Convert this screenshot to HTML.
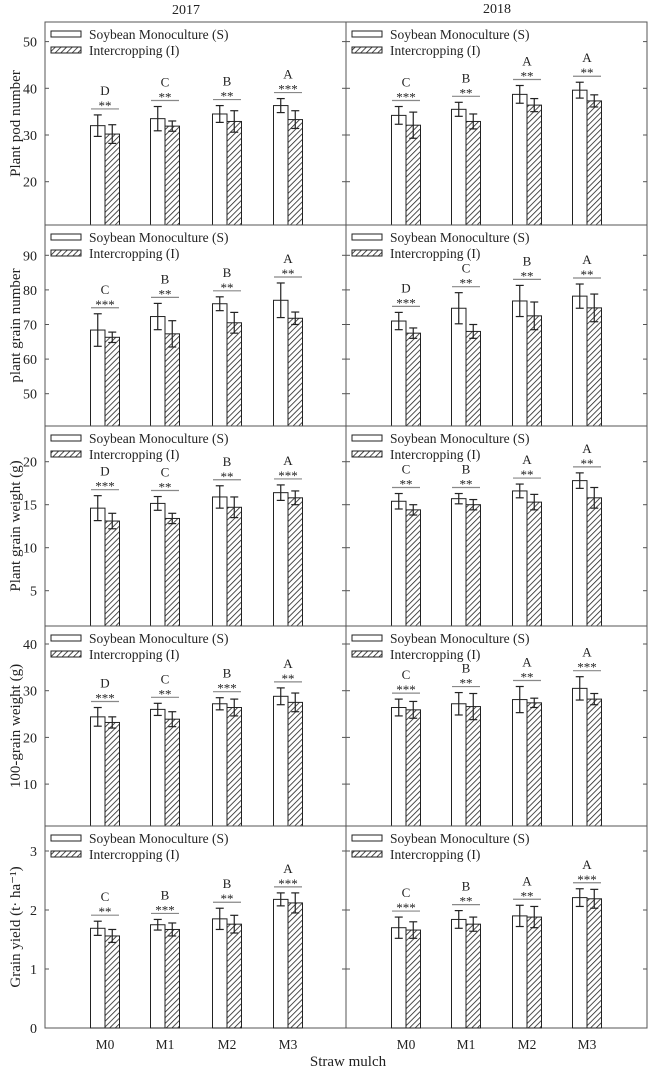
<!DOCTYPE html>
<html><head><meta charset="utf-8"><style>
html,body{margin:0;padding:0;background:#fff}
svg text{font-family:"Liberation Serif",serif;fill:#222}
</style></head><body>
<svg id="fig" width="649" height="1070" viewBox="0 0 649 1070" xmlns="http://www.w3.org/2000/svg">
<defs><pattern id="hatch" patternUnits="userSpaceOnUse" width="4" height="4" patternTransform="rotate(45)"><rect width="4" height="4" fill="#fff"/><line x1="0" y1="0" x2="0" y2="4" stroke="#222" stroke-width="1.6"/></pattern></defs>
<text x="186" y="14" font-size="14" text-anchor="middle">2017</text>
<text x="497" y="13" font-size="14" text-anchor="middle">2018</text>
<text x="348" y="1066" font-size="15" text-anchor="middle">Straw mulch</text>
</svg>
<script>
const categories=["M0","M1","M2","M3"];
const titles=["Plant pod number","plant grain number","Plant grain weight (g)","100-grain weight (g)","Grain yield (t· ha⁻¹)"];
const ticks=[[20,30,40,50],[50,60,70,80,90],[5,10,15,20],[10,20,30,40],[0,1,2,3]];
const sMono=[[[32.0,33.5,34.5,36.3],[34.2,35.5,38.7,39.6]],[[68.4,72.3,76.0,77.0],[71.0,74.7,76.8,78.2]],[[14.6,15.15,15.9,16.4],[15.4,15.7,16.6,17.8]],[[24.4,26.0,27.2,28.8],[26.4,27.2,28.1,30.5]],[[1.69,1.75,1.85,2.18],[1.70,1.84,1.90,2.21]]];
const sErr=[[[2.3,2.6,1.8,1.5],[1.9,1.5,1.9,1.7]],[[4.7,3.8,2.0,5.0],[2.5,4.5,4.5,3.5]],[[1.45,0.8,1.3,0.9],[0.9,0.6,0.8,0.9]],[[2.0,1.3,1.3,1.8],[1.8,2.4,2.8,2.5]],[[0.12,0.09,0.18,0.11],[0.18,0.15,0.18,0.15]]];
const iCrop=[[[30.2,31.9,32.9,33.3],[32.1,32.9,36.4,37.3]],[[66.3,67.3,70.5,71.8],[67.5,68.0,72.5,74.8]],[[13.1,13.4,14.7,15.8],[14.4,15.0,15.3,15.8]],[[23.2,23.9,26.4,27.5],[25.9,26.6,27.4,28.2]],[[1.56,1.67,1.76,2.12],[1.66,1.76,1.88,2.19]]];
const iErr=[[[2.0,1.1,2.3,1.9],[2.8,1.6,1.4,1.3]],[[1.5,3.8,3.0,1.8],[1.5,2.0,4.0,4.0]],[[0.9,0.6,1.2,0.8],[0.6,0.6,0.9,1.2]],[[1.2,1.6,1.8,2.0],[1.8,2.8,1.0,1.2]],[[0.11,0.11,0.15,0.17],[0.14,0.12,0.18,0.16]]];
const letters=[[["D","C","B","A"],["C","B","A","A"]],[["C","B","B","A"],["D","C","B","A"]],[["D","C","B","A"],["C","B","A","A"]],[["D","C","B","A"],["C","B","A","A"]],[["C","B","B","A"],["C","B","A","A"]]];
const stars=[[["**","**","**","***"],["***","**","**","**"]],[["***","**","**","**"],["***","**","**","**"]],[["***","**","**","***"],["**","**","**","**"]],[["***","**","***","**"],["***","**","**","***"]],[["**","***","**","***"],["***","**","**","***"]]];

const svg=document.getElementById('fig');
const NS='http://www.w3.org/2000/svg';
function mk(tag,attrs,parent){const e=document.createElementNS(NS,tag);for(const k in attrs)e.setAttribute(k,attrs[k]);(parent||svg).appendChild(e);return e;}
const rowsY=[[22,225],[225,426],[426,626],[626,826],[826,1028]];
const scaleRef=[[30,135,4.67],[70,324.5,3.46],[15,504.7,8.6],[30,690.7,4.67],[0,1028,59]];
const colX=[[45,346],[346,647]];
const groupX=[[105,165,227,288],[406,466,527,587]];
const bw=14.5;
for(let r=0;r<5;r++){
  const [ref,refPx,ppu]=scaleRef[r];
  const y=v=>refPx-(v-ref)*ppu;
  const [y0,y1]=rowsY[r];
  for(let c=0;c<2;c++){
    const g=mk('g',{});
    
    
    const [x0,x1]=colX[c];
    mk('rect',{x:x0,y:y0,width:x1-x0,height:y1-y0,fill:'none',stroke:'#555','stroke-width':1},g);
    ticks[r].forEach(t=>{
      if(y(t)<y0+2||y(t)>y1)return;
      mk('line',{x1:x0,x2:x0+4,y1:y(t),y2:y(t),stroke:'#555'},g);
      mk('line',{x1:x1-4,x2:x1,y1:y(t),y2:y(t),stroke:'#555'},g);
      if(c===0){const tl=mk('text',{x:x0-8,y:y(t)+5,'font-size':14,'text-anchor':'end'},g);tl.textContent=t;
        
        }
    });
    if(c===0){
      const cy=(y0+y1)/2;
      const tt=mk('text',{x:0,y:0,'font-size':15,'text-anchor':'middle',transform:`translate(20,${cy}) rotate(-90)`},g);
      tt.textContent=titles[r];
      
      
    }
    const lx=x0+6, ly=y0+9;
    const lg=mk('g',{},g);
    
    
    mk('rect',{x:lx,y:ly,width:30,height:6,fill:'#fff',stroke:'#222'},lg);
    mk('rect',{x:lx,y:ly+16,width:30,height:6,fill:'url(#hatch)',stroke:'#222'},lg);
    const t1=mk('text',{x:lx+38,y:ly+8,'font-size':13.5},lg);t1.textContent='Soybean Monoculture (S)';
    const t2=mk('text',{x:lx+38,y:ly+24,'font-size':13.5},lg);t2.textContent='Intercropping (I)';
    for(let k=0;k<4;k++){
      const gx=groupX[c][k];
      const s=sMono[r][c][k],se=sErr[r][c][k],iv=iCrop[r][c][k],ie=iErr[r][c][k];
      const b1=mk('rect',{x:gx-bw,y:y(s),width:bw,height:y1-y(s),fill:'#fff',stroke:'#222','stroke-width':1},g);
      
      
      const b2=mk('rect',{x:gx,y:y(iv),width:bw,height:y1-y(iv),fill:'url(#hatch)',stroke:'#222','stroke-width':1},g);
      
      
      [[gx-bw/2,s,se],[gx+bw/2,iv,ie]].forEach(([ex,v,e])=>{
        const eg=mk('g',{stroke:'#222','stroke-width':1.2},g);
        
        
        mk('line',{x1:ex,x2:ex,y1:y(v+e),y2:y(v-e)},eg);
        mk('line',{x1:ex-4,x2:ex+4,y1:y(v+e),y2:y(v+e)},eg);
        mk('line',{x1:ex-4,x2:ex+4,y1:y(v-e),y2:y(v-e)},eg);
      });
      const ly2=Math.min(y(s+se),y(iv+ie))-6;
      const sl=mk('line',{x1:gx-14,x2:gx+14,y1:ly2,y2:ly2,stroke:'#888','stroke-width':1.2},g);
      
      
      const st=mk('text',{x:gx,y:ly2+1,'font-size':13,'text-anchor':'middle'},g);st.textContent=stars[r][c][k];
      
      
      const le=mk('text',{x:gx,y:ly2-14,'font-size':13,'text-anchor':'middle'},g);le.textContent=letters[r][c][k];
      
      
      if(r===4){
        const xl=mk('text',{x:gx,y:1049,'font-size':13.5,'text-anchor':'middle'},g);xl.textContent=categories[k];
        
        
      }
    }
  }
}
</script>
</body></html>
